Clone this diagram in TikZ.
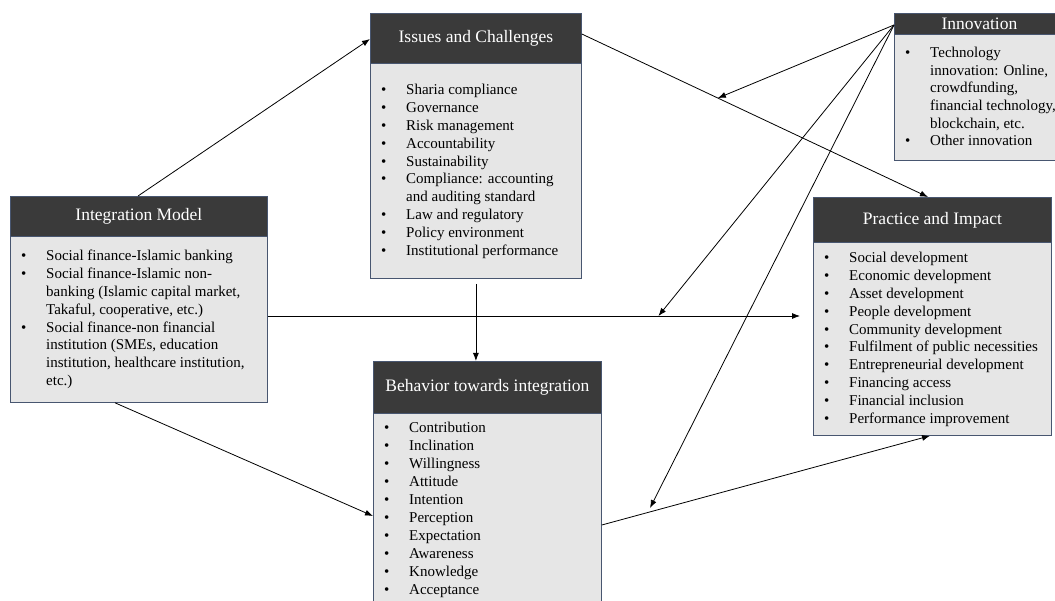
\documentclass[tikz,border=0pt]{standalone}
\usepackage{fontspec}
\setmainfont{Liberation Serif}
\usetikzlibrary{arrows.meta,calc}
\definecolor{hdrgray}{RGB}{58,58,58}
\definecolor{bodygray}{RGB}{230,230,230}
\definecolor{edgeblue}{RGB}{72,86,112}
\tikzset{
  boxbody/.style={draw=edgeblue, line width=0.8pt, fill=bodygray, anchor=north west, inner sep=0pt},
  boxhead/.style={draw=edgeblue, line width=0.8pt, fill=hdrgray, anchor=north west, inner sep=0pt},
  headtext/.style={text=white, font=\fontsize{17.5}{20}\selectfont, inner sep=0pt},
  itemtext/.style={anchor=base west, inner sep=0pt, font=\fontsize{15}{18}\selectfont},
  bullettext/.style={anchor=base west, inner sep=0pt, font=\fontsize{15}{18}\selectfont},
  conn/.style={-{Latex[length=8pt,width=6pt]}, line width=0.8pt, black}
}
\newcommand\mklist[5]{%
  \foreach \bb/\txt [count=\i from 0] in {#5} {
    \node[itemtext] (#1t\i) at ({#2+36},{#3+#4*\i}) {\txt};
    \ifnum\bb=1 \node[bullettext] (#1b\i) at ({#2+11},{#3+#4*\i}) {\textbullet};\fi
  }}
\begin{document}
\begin{tikzpicture}[x=1pt,y=-1pt]
\useasboundingbox[fill=white] (0,0) rectangle (1055,601);

% Integration Model
\node[boxbody, minimum width=257pt, minimum height=206pt] (im) at (10,196) {};
\node[boxhead, minimum width=257pt, minimum height=40pt] (imh) at (10,196) {};
\node[headtext] (imht) at (imh.center) {Integration Model};
\mklist{im}{10}{260.5}{17.9}{1/Social finance-Islamic banking, 1/Social finance-Islamic non-, 0/{banking (Islamic capital market,}, 0/{Takaful, cooperative, etc.)}, 1/Social finance-non financial, 0/{institution (SMEs, education}, 0/{institution, healthcare institution,}, 0/etc.)}

% Issues and Challenges
\node[boxbody, minimum width=211pt, minimum height=265pt] (iss) at (370,13) {};
\node[boxhead, minimum width=211pt, minimum height=50pt] (issh) at (370,13) {};
\node[headtext] (issht) at (issh.center) {Issues and Challenges};
\mklist{iss}{370}{94.5}{17.9}{1/Sharia compliance, 1/Governance, 1/Risk management, 1/Accountability, 1/Sustainability, 1/Compliance: accounting, 0/and auditing standard, 1/Law and regulatory, 1/Policy environment, 1/Institutional performance}

% Innovation
\node[boxbody, minimum width=170pt, minimum height=147pt] (inn) at (894,13) {};
\node[boxhead, minimum width=170pt, minimum height=21pt] (innh) at (894,13) {};
\node[headtext] (innht) at (innh.center) {Innovation};
\mklist{inn}{894}{57.5}{17.7}{1/Technology, 0/{innovation: Online,}, 0/{crowdfunding,}, 0/{financial technology,}, 0/{blockchain, etc.}, 1/Other innovation}

% Practice and Impact
\node[boxbody, minimum width=238pt, minimum height=238pt] (pr) at (813,197) {};
\node[boxhead, minimum width=238pt, minimum height=45pt] (prh) at (813,197) {};
\node[headtext] (prht) at (prh.center) {Practice and Impact};
\mklist{pr}{813}{262.5}{17.9}{1/Social development, 1/Economic development, 1/Asset development, 1/People development, 1/Community development, 1/Fulfilment of public necessities, 1/Entrepreneurial development, 1/Financing access, 1/Financial inclusion, 1/Performance improvement}

% Behavior towards integration
\node[boxbody, minimum width=228pt, minimum height=250pt] (beh) at (373,361) {};
\node[boxhead, minimum width=228pt, minimum height=52pt] (behh) at (373,361) {};
\node[headtext] (behht) at (behh.center) {Behavior towards integration};
\mklist{beh}{373}{432}{18}{1/Contribution, 1/Inclination, 1/Willingness, 1/Attitude, 1/Intention, 1/Perception, 1/Expectation, 1/Awareness, 1/Knowledge, 1/Acceptance}

% connector end points
\coordinate (imTop) at ([xshift=128pt]im.north west);
\coordinate (issLeft) at ([yshift=-26pt]iss.north west);
\coordinate (issRight) at ([yshift=-21pt]iss.north east);
\coordinate (prTop) at ([xshift=115pt]pr.north west);
\coordinate (imRight) at ([yshift=-120pt]im.north east);
\coordinate (hEnd) at (800,316);
\coordinate (issBot) at ([yshift=-5pt]iss.south);
\coordinate (behTop) at (issBot |- beh.north);
\coordinate (imBot) at ([xshift=105pt]im.south west);
\coordinate (behLeft) at ([yshift=-155pt]beh.north west);
\coordinate (behRight) at ([yshift=-164pt]beh.north east);
\coordinate (prBot) at ([xshift=117pt]pr.south west);
\coordinate (innO) at ([yshift=-12pt]inn.north west);
\coordinate (onA) at ($(issRight)!0.393!(prTop)$);
\coordinate (onB) at ($(imRight)!0.734!(hEnd)$);
\coordinate (onC) at ($(behRight)!0.14!(prBot)$);

% connectors
\draw[conn] (imTop) -- (issLeft);
\draw[conn] (issRight) -- (prTop);
\draw[conn] (imRight) -- (hEnd);
\draw[conn] (issBot) -- (behTop);
\draw[conn] (imBot) -- (behLeft);
\draw[conn] (behRight) -- (prBot);
\draw[conn] (innO) -- (onA);
\draw[conn] (innO) -- (onB);
\draw[conn, shorten >=5pt] (innO) -- (onC);
\end{tikzpicture}
\end{document}
